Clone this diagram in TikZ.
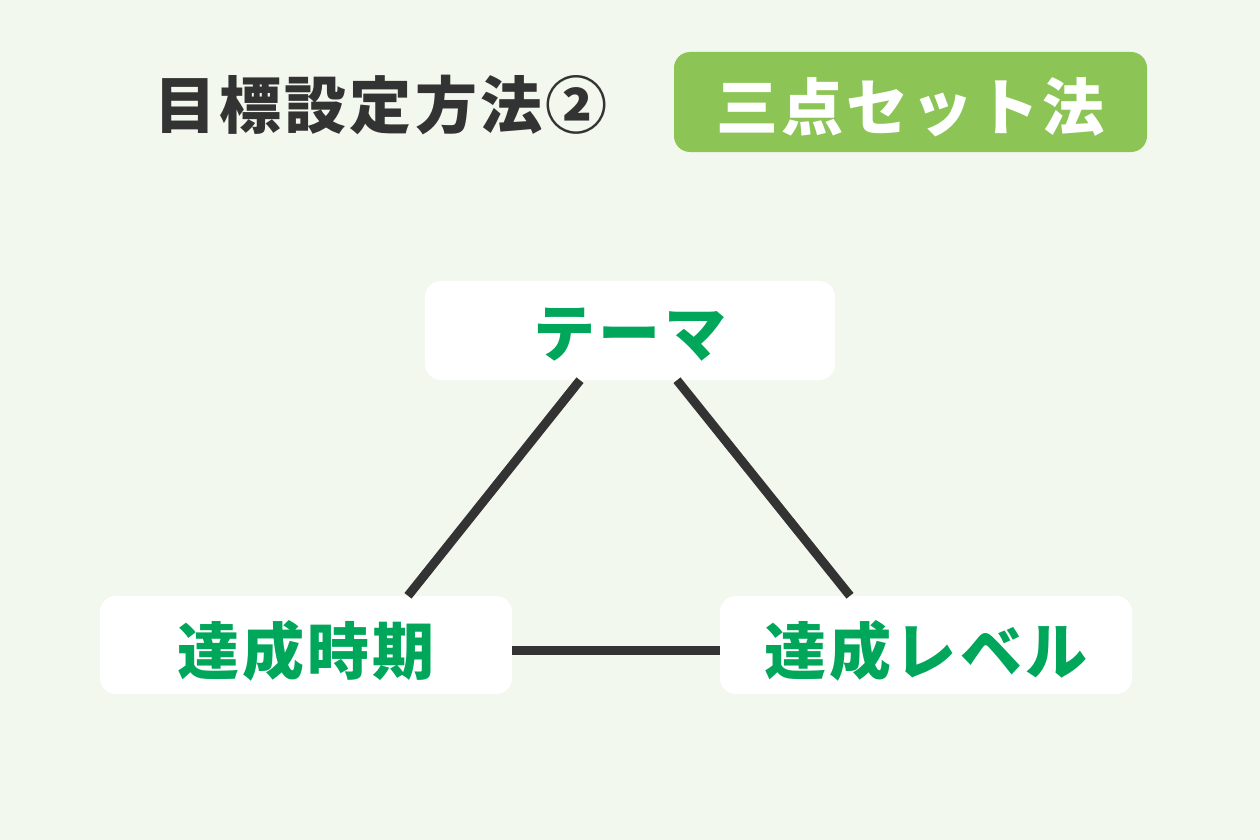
\documentclass[tikz,border=0pt]{standalone}
\usepackage{fontspec}
\newfontfamily\cjk{Noto Sans CJK JP}[LetterSpace=5]
\definecolor{bgc}{HTML}{F3F8EE}
\definecolor{darkc}{HTML}{333333}
\definecolor{leaf}{HTML}{8CC556}
\definecolor{txtg}{HTML}{00A65A}
\tikzset{
  bigfont/.style={font=\cjk\bfseries\fontsize{62}{62}\selectfont},
  box/.style={fill=white, rounded corners=16pt, inner sep=0pt, text=txtg, bigfont, text depth=0pt},
  conn/.style={draw=darkc, line width=9pt},
}
\begin{document}
\begin{tikzpicture}[x=1pt,y=-1pt]
\fill[bgc] (0,0) rectangle (1260,840);
\useasboundingbox (0,0) rectangle (1260,840);
\node[text=darkc, bigfont, anchor=center] (title) at (381,105) {目標設定方法②};
\node[fill=leaf, rounded corners=16pt, minimum width=473pt, minimum height=100pt, inner sep=0pt, text=white, bigfont, text depth=0pt] (method) at (910.5,102) {\raisebox{-4pt}{三点セット法}};
\node[box, minimum width=410pt, minimum height=99pt] (theme) at (630,330.5) {\raisebox{-4pt}{テーマ}};
\node[box, minimum width=412pt, minimum height=98pt] (period) at (306,645) {\raisebox{-4pt}{達成時期}};
\node[box, minimum width=412pt, minimum height=98pt] (level) at (926,645) {\raisebox{-4pt}{達成レベル}};
\draw[conn] ([xshift=-50pt]theme.south) -- ([xshift=102pt]period.north);
\draw[conn] ([xshift=47pt]theme.south) -- ([xshift=-76pt]level.north);
\draw[conn] ([yshift=-5pt]period.east) -- ([yshift=-5pt]level.west);
\end{tikzpicture}
\end{document}
